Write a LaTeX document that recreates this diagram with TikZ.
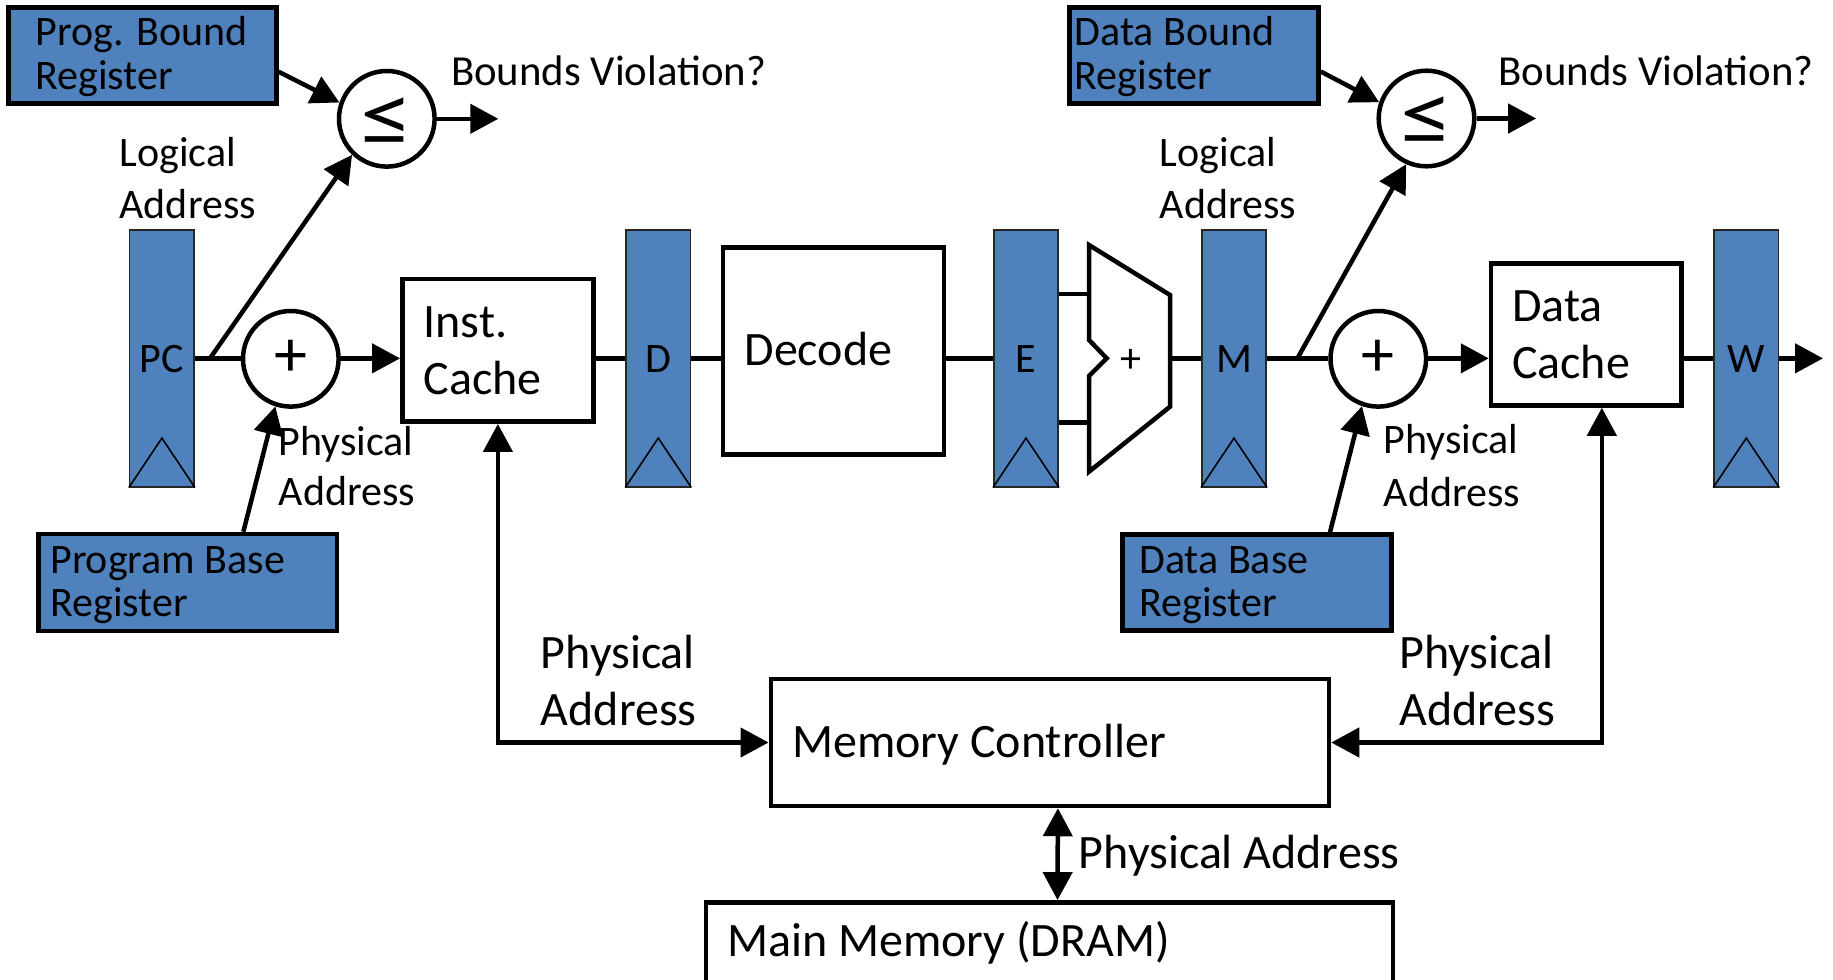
\documentclass[tikz,border=0pt]{standalone}
\usepackage{fontspec}
\setmainfont{Carlito}
\usetikzlibrary{arrows.meta,calc}
\definecolor{regblue}{HTML}{4F81BD}
\newcommand\fsmall{\fontsize{21}{24}\selectfont}
\newcommand\flarge{\fontsize{24}{28}\selectfont}
\newcommand\leqsym{\scalebox{1.1}[0.9]{≤}}
\begin{document}
\begin{tikzpicture}[x=0.5pt,y=-0.5pt,
  wire/.style={line width=2.25pt},
  arr/.style={wire,-{Triangle[length=14pt,width=14.5pt]}},
  biarr/.style={wire,{Triangle[length=14pt,width=14.5pt]}-{Triangle[length=14pt,width=14.5pt]}},
  box/.style={draw,line width=2.25pt,fill=white,inner sep=0pt},
  bluebox/.style={draw,line width=2.25pt,fill=regblue,inner sep=0pt},
  reg/.style={draw=black!85,line width=0.8pt,fill=regblue,inner sep=0pt,minimum width=32.25pt,minimum height=128.35pt},
  op/.style={draw,circle,line width=2.25pt,fill=white,inner sep=0pt,minimum size=47.8pt},
  opsym/.style={inner sep=0pt,font=\fontsize{48}{48}\selectfont},
  lbl/.style={anchor=base west,inner sep=0pt,font=\fsmall},
  lblL/.style={anchor=base west,inner sep=0pt,font=\flarge},
  rlbl/.style={anchor=base,inner sep=0pt,font=\fsmall}]
\clip (0,0) rectangle (1833,980);
\fill[white] (0,0) rectangle (1833,980);

% blue boxes
\node[bluebox,minimum width=133.9pt,minimum height=48pt] (pbound) at (142.4,55.5) {};
\node[bluebox,minimum width=124.5pt,minimum height=48pt] (dbound) at (1194,55.5) {};
\node[bluebox,minimum width=149.15pt,minimum height=48.5pt] (pbase) at (187.85,582.5) {};
\node[bluebox,minimum width=134.7pt,minimum height=48pt] (dbase) at (1257,582.5) {};

% white boxes
\node[box,minimum width=95.6pt,minimum height=71.35pt] (icache) at (497.9,350.35) {};
\node[box,minimum width=110.7pt,minimum height=103.55pt] (decode) at (833.5,350.85) {};
\node[box,minimum width=95.15pt,minimum height=71pt] (dcache) at (1586.15,334.5) {};
\node[box,minimum width=279.1pt,minimum height=63.5pt] (mc) at (1049.9,742.5) {};
\node[box,minimum width=343.5pt,minimum height=43.85pt] (mm) at (1049.5,946.15) {};

% pipeline registers
\foreach \n/\x in {PC/161.9,D/658.3,E/1026,M/1234,W/1746.3}{
  \node[reg] (\n) at (\x,358.35) {};
  \draw[line width=0.8pt] (\n.south west) -- ($(\n.south)+(0,-49.4)$) -- (\n.south east);
  \node[rlbl] (\n lbl) at (\x,372.7) {\n};
}

% operators
\node[op] (cmp1) at (386.8,118.8) {};
\node[opsym] (cmp1s) at (386.6,121.4) {\leqsym};
\node[op] (cmp2) at (1426.5,118.5) {};
\node[opsym] (cmp2s) at (1426.3,121.1) {\leqsym};
\node[op,font=\fontsize{33}{33}\selectfont] (add1) at (290.8,358.8) {+};
\node[op,font=\fontsize{33}{33}\selectfont] (add2) at (1378.3,358.8) {+};

% ALU
\draw[wire,line join=miter] (1089,245) -- (1170,295) -- (1170,406.7) -- (1089,471.7)
  -- (1089,376) -- (1106.7,358.3) -- (1089,340) -- cycle;
\coordinate (aluin1) at (1089,294);
\coordinate (aluin2) at (1089,422.7);
\coordinate (aluout) at (1170,358.35);
\node[rlbl] (aluplus) at (1131.3,372) {+};

% branch points and free ends
\coordinate (br1) at (210,358.35);
\coordinate (br2) at (1297.4,358.35);
\coordinate (out1) at (498.3,118.8);
\coordinate (out2) at (1536.2,118.5);
\coordinate (outW) at (1823,358.35);

% datapath wires
\draw[wire] (PC.east) -- (add1.west |- PC.east);
\draw[arr] (br1) -- (cmp1.226);
\draw[arr] (add1.east |- PC.east) -- (icache.west |- PC.east);
\draw[arr] ($(pbase.north)+(55.5,0)$) -- (add1.252);
\draw[arr] ($(pbound.east)+(0,16.2)$) -- (cmp1.161);
\draw[arr] (cmp1.east) -- (out1);
\draw[wire] (icache.east |- D.west) -- (D.west);
\draw[wire] (D.east) -- (decode.west |- D.east);
\draw[wire] (decode.east |- E.west) -- (E.west);
\draw[wire] (E.east |- aluin1) -- (aluin1);
\draw[wire] (E.east |- aluin2) -- (aluin2);
\draw[wire] (aluout) -- (M.west);
\draw[wire] (M.east) -- (add2.west |- M.east);
\draw[arr] (br2) -- (cmp2.246);
\draw[arr] ($(dbound.east)+(0,16)$) -- (cmp2.161);
\draw[arr] (cmp2.east) -- (out2);
\draw[arr] (add2.east |- M.east) -- (dcache.west |- M.east);
\draw[arr] ($(dbase.north)+(73,0)$) -- (add2.251.5);
\draw[wire] (dcache.east |- W.west) -- (W.west);
\draw[arr] (W.east) -- (outW);

% memory wires
\draw[biarr,line join=miter] (icache.south) |- (mc.west);
\draw[biarr,line join=miter] ($(dcache.south)+(15.7,0)$) |- (mc.east);
\draw[biarr] ($(mc.south)+(8,0)$) -- ($(mm.north)+(8,0)$);

% texts
\node[lbl] (t1) at (35,45.7) {Prog. Bound};
\node[lbl] (t2) at (35,89.3) {Register};
\node[lbl] (t3) at (1074.4,45.7) {Data Bound};
\node[lbl] (t4) at (1074.4,89.3) {Register};
\node[lbl,font=\fontsize{21.4}{24}\selectfont] (t5) at (450.7,85) {Bounds Violation?};
\node[lbl,font=\fontsize{21.4}{24}\selectfont] (t6) at (1498,85) {Bounds Violation?};
\node[lbl] (t7) at (119.2,166.7) {Logical};
\node[lbl] (t8) at (119.2,218.3) {Address};
\node[lbl] (t9) at (1159.5,166.7) {Logical};
\node[lbl] (t10) at (1159.5,218.3) {Address};
\node[lbl] (t11) at (278.3,455) {Physical};
\node[lbl] (t12) at (278.3,505) {Address};
\node[lbl] (t13) at (1383.3,453.3) {Physical};
\node[lbl] (t14) at (1383.3,506.7) {Address};
\node[lbl] (t15) at (49.9,573.3) {Program Base};
\node[lbl] (t16) at (49.9,616.7) {Register};
\node[lbl] (t17) at (1139,573.3) {Data Base};
\node[lbl] (t18) at (1139,616.7) {Register};
\node[lblL] (t19) at (423.3,337.3) {Inst.};
\node[lblL] (t20) at (423.3,394) {Cache};
\node[lblL] (t21) at (744.1,365) {Decode};
\node[lblL] (t22) at (1511.7,321.7) {Data};
\node[lblL] (t23) at (1511.7,378.3) {Cache};
\node[lblL] (t24) at (540.5,668.3) {Physical};
\node[lblL] (t25) at (540.5,725) {Address};
\node[lblL] (t26) at (1399,668.3) {Physical};
\node[lblL] (t27) at (1399,725) {Address};
\node[lblL] (t28) at (791.7,757.3) {Memory Controller};
\node[lblL] (t29) at (1078.5,868.5) {Physical Address};
\node[lblL] (t30) at (726.7,956.7) {Main Memory (DRAM)};
\end{tikzpicture}
\end{document}
